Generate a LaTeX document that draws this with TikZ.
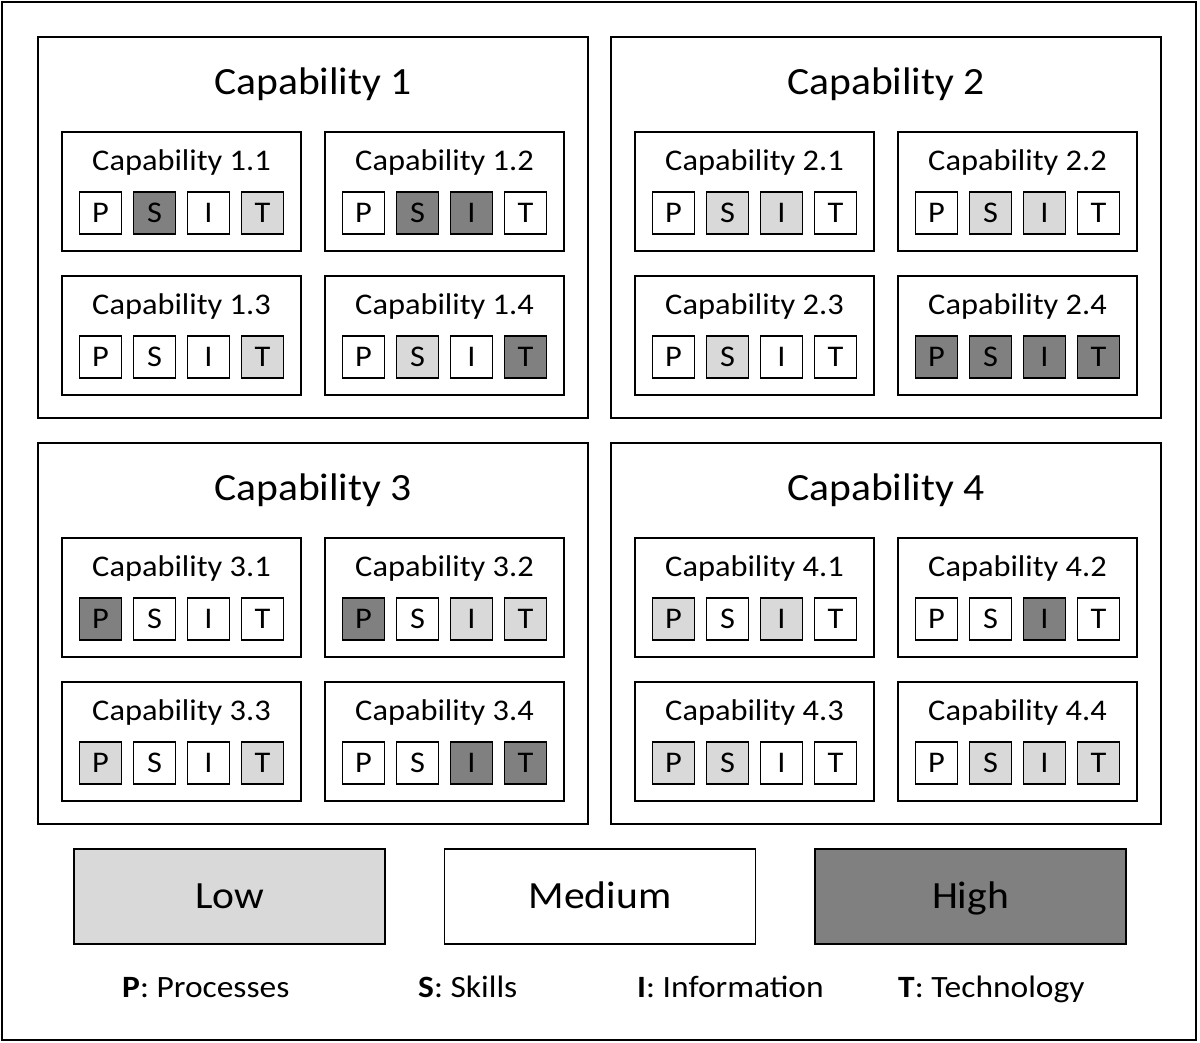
\documentclass[tikz,border=0pt]{standalone}
\usepackage{fontspec}
\setmainfont[FakeStretch=1.08]{Carlito}
\definecolor{lowc}{HTML}{D9D9D9}
\definecolor{highc}{HTML}{808080}
\begin{document}
\begin{tikzpicture}[x=1pt,y=-1pt,
  box/.style={draw=black, line width=1.4pt, inner sep=0pt},
  cell/.style={draw=black, line width=1.4pt, minimum width=42pt, minimum height=42pt, inner sep=0pt, text height=19.2pt, text depth=0pt, font=\fontsize{30}{30}\selectfont},
  titletext/.style={inner sep=0pt, text height=24.6pt, text depth=0pt, font=\fontsize{38.5}{38.5}\selectfont},
  subtext/.style={inner sep=0pt, text height=19.2pt, text depth=0pt, font=\fontsize{30}{30}\selectfont},
  legendbox/.style={draw=black, line width=1.4pt, minimum width=311pt, minimum height=95pt, inner sep=0pt, text height=24.6pt, text depth=0pt, font=\fontsize{38.5}{38.5}\selectfont},
  keytext/.style={inner sep=0pt, anchor=base west, font=\fontsize{31}{31}\selectfont}]
\useasboundingbox (0,0) rectangle (1200,1042);
\node[draw=black, line width=1.2pt, minimum width=1194pt, minimum height=1038pt, inner sep=0pt] (frame) at (599,521) {};
% groups
\foreach \g/\gx/\gy in {1/0/0,2/573/0,3/0/406,4/573/406} {
  \pgfmathsetmacro{\cxg}{313+\gx}
  \pgfmathsetmacro{\cyg}{227.5+\gy}
  \pgfmathsetmacro{\tyg}{82.5+\gy}
  \node[box, minimum width=550pt, minimum height=381pt] (g\g) at (\cxg,\cyg) {};
  \node[titletext] (g\g t) at (\cxg,\tyg) {Capability \g};
}
% sub capabilities
\foreach \g/\s/\cx/\cy/\a/\b/\c/\d in {
  1/1/181.5/191.5/white/highc/white/lowc,
  1/2/444.5/191.5/white/highc/highc/white,
  1/3/181.5/335.5/white/white/white/lowc,
  1/4/444.5/335.5/white/lowc/white/highc,
  2/1/754.5/191.5/white/lowc/lowc/white,
  2/2/1017.5/191.5/white/lowc/lowc/white,
  2/3/754.5/335.5/white/lowc/white/white,
  2/4/1017.5/335.5/highc/highc/highc/highc,
  3/1/181.5/597.5/highc/white/white/white,
  3/2/444.5/597.5/highc/white/lowc/lowc,
  3/3/181.5/741.5/lowc/white/white/lowc,
  3/4/444.5/741.5/white/white/highc/highc,
  4/1/754.5/597.5/lowc/white/lowc/white,
  4/2/1017.5/597.5/white/white/highc/white,
  4/3/754.5/741.5/lowc/lowc/white/white,
  4/4/1017.5/741.5/white/lowc/lowc/lowc} {
  \pgfmathsetmacro{\ty}{\cy-30.5}
  \pgfmathsetmacro{\by}{\cy+21.5}
  \pgfmathsetmacro{\xa}{\cx-81}
  \pgfmathsetmacro{\xb}{\cx-27}
  \pgfmathsetmacro{\xc}{\cx+27}
  \pgfmathsetmacro{\xd}{\cx+81}
  \node[box, minimum width=239pt, minimum height=119pt] (c\g\s) at (\cx,\cy) {};
  \node[subtext] (c\g\s t) at (\cx,\ty) {Capability \g.\s};
  \node[cell, fill=\a] (c\g\s p) at (\xa,\by) {P};
  \node[cell, fill=\b] (c\g\s s) at (\xb,\by) {S};
  \node[cell, fill=\c] (c\g\s i) at (\xc,\by) {I};
  \node[cell, fill=\d] (c\g\s x) at (\xd,\by) {T};
}
% legend
\node[legendbox, fill=lowc] (low) at (229.5,896.5) {Low};
\node[legendbox, fill=white] (medium) at (600,896.5) {Medium};
\node[legendbox, fill=highc] (high) at (970.5,896.5) {High};
\node[keytext] (kp) at (122,997) {\textbf{P}: Processes};
\node[keytext] (ks) at (418,997) {\textbf{S}: Skills};
\node[keytext] (ki) at (637,997) {\textbf{I}: Information};
\node[keytext] (kt) at (898,997) {\textbf{T}: Technology};
\end{tikzpicture}
\end{document}
